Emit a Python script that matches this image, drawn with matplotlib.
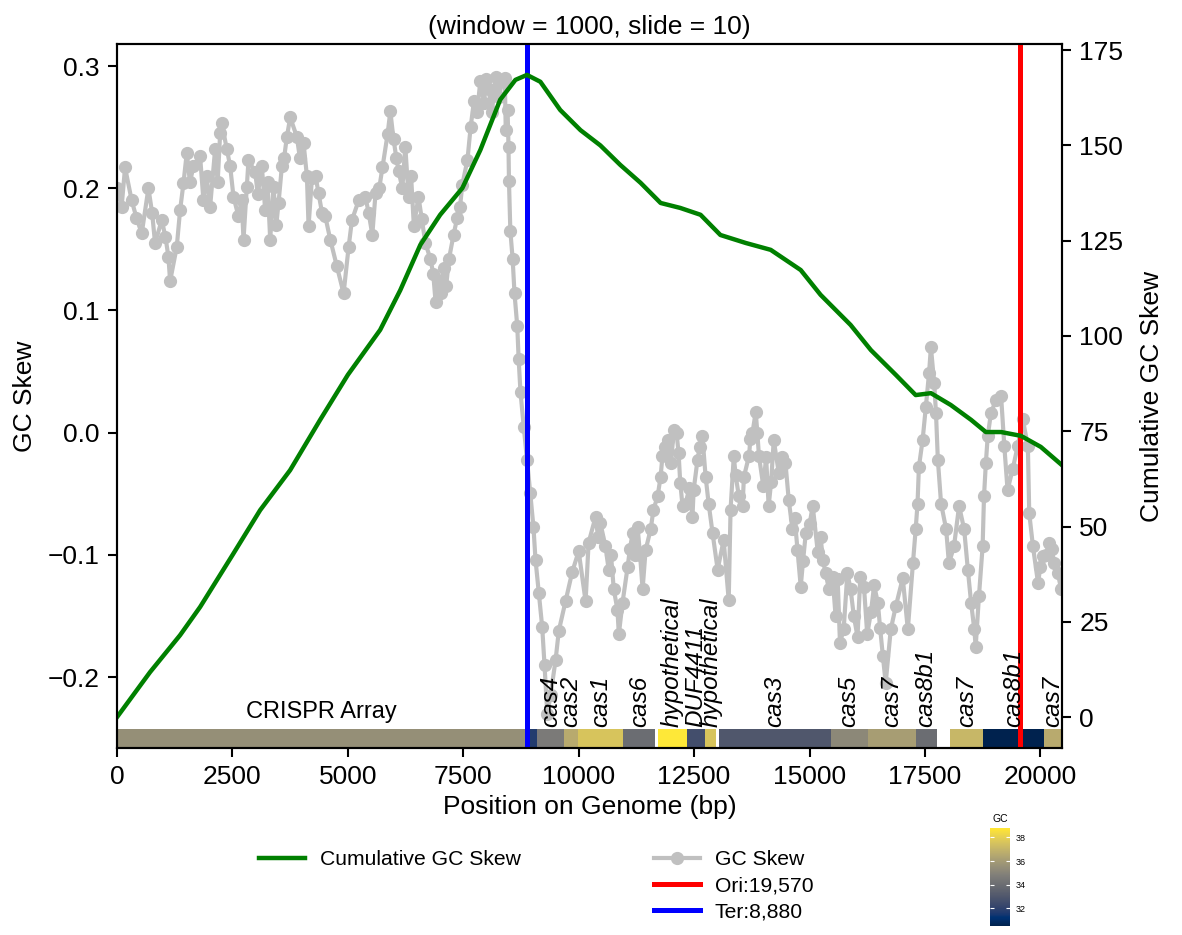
import numpy as np
import matplotlib.pyplot as plt
from matplotlib import colors, cm
from matplotlib.ticker import MultipleLocator

plt.rcParams['font.family'] = ['Liberation Sans', 'DejaVu Sans']

# GC skew (window = 1000, slide = 10)
skew_pos = [0, 174, 318, 535, 680, 824, 969, 1113, 1150, 1294, 1366, 1439, 1511, 1656, 1800,
            1872, 2017, 2125, 2234, 2270, 2378, 2451, 2523, 2631, 2740, 2812, 2848, 2993, 3137,
            3210, 3318, 3390, 3499, 3571, 3679, 3752, 3896, 4041, 4113, 4149, 4222, 4366, 4511,
            4619, 4764, 4908, 5017, 5089, 5234,
            5380, 5530, 5600, 5750, 5860, 5920, 5990, 6100, 6245, 6315, 6430, 6530, 6680, 6790,
            6900, 7010, 7080, 7190, 7290, 7370, 7480, 7590, 7660, 7730, 7870, 8050, 8200, 8350,
            8460, 8480, 8490, 8520, 8570, 8610, 8670, 8700, 8740, 8810, 8880, 8950, 9020, 9065,
            9135, 9210, 9260, 9320, 9390, 9500, 9570, 9715, 9860, 10000, 10150, 10215,
            10365, 10470, 10580, 10650, 10760, 10840, 10870, 10950, 11060, 11170, 11275, 11385,
            11450, 11560, 11620, 11710, 11775, 11815, 11925, 12060, 12165, 12200, 12315, 12465,
            12490, 12575, 12680, 12750, 12815, 12900, 13010, 13140, 13250, 13290, 13360, 13470,
            13580, 13690, 13765, 13835, 13905, 14000, 14115, 14225, 14335, 14480, 14550, 14630,
            14740, 14810, 14920, 15070, 15180, 15290, 15420,
            15565, 15610, 15740, 15890, 16040, 16180, 16330, 16480, 16590, 16650, 16760, 16870,
            17020, 17130, 17240, 17300, 17340, 17370, 17450, 17520, 17590, 17630, 17700, 17740,
            17780, 17850, 17960, 18020, 18130, 18240, 18350, 18430, 18500, 18570, 18600, 18670,
            18750, 18780, 18820, 18860, 18930, 19040, 19150, 19220, 19290, 19400, 19510, 19620,
            19730, 19760, 19840, 19950, 20060, 20190, 20300, 20450]
skew_val = [0.200, 0.217, 0.190, 0.163, 0.200, 0.155, 0.174, 0.144, 0.124, 0.152, 0.182, 0.204,
            0.229, 0.218, 0.226, 0.190, 0.185, 0.232, 0.245, 0.253, 0.232, 0.218, 0.193, 0.177,
            0.158, 0.201, 0.223, 0.213, 0.218, 0.182, 0.158, 0.201, 0.188, 0.218, 0.242, 0.258,
            0.242, 0.237, 0.210, 0.169, 0.208, 0.196, 0.177, 0.158, 0.136, 0.114, 0.152, 0.174,
            0.190,
            0.193, 0.162, 0.196, 0.217, 0.244, 0.263, 0.240, 0.214, 0.234, 0.193, 0.169, 0.193,
            0.155, 0.142, 0.107, 0.114, 0.135, 0.142, 0.162, 0.176, 0.203, 0.223, 0.250, 0.271,
            0.288, 0.281, 0.291, 0.288, 0.264, 0.234, 0.206, 0.165, 0.142, 0.114, 0.087, 0.060,
            0.033, 0.005, -0.022, -0.049, -0.077, -0.104, -0.131, -0.159, -0.190, -0.230, -0.215,
            -0.186, -0.162, -0.138, -0.114, -0.097, -0.138, -0.090,
            -0.069, -0.074, -0.093, -0.112, -0.128, -0.145, -0.165, -0.139, -0.110, -0.082,
            -0.077, -0.128, -0.096, -0.079, -0.063, -0.052, -0.036, -0.019, -0.006, 0.002,
            -0.017, -0.041, -0.058, -0.069, -0.047, -0.022, -0.003, -0.036, -0.058, -0.082,
            -0.112, -0.088, -0.137, -0.063, -0.019, -0.052, -0.036, -0.019, 0.000, 0.017,
            -0.019, -0.044, -0.060, -0.006, -0.033, -0.025, -0.055, -0.079, -0.096, -0.126,
            -0.082, -0.060, -0.098, -0.104, -0.128,
            -0.150, -0.120, -0.161, -0.128, -0.167, -0.126, -0.147, -0.139, -0.183, -0.205,
            -0.161, -0.142, -0.119, -0.161, -0.107, -0.079, -0.058, -0.028, -0.006, 0.021,
            0.049, 0.070, 0.041, 0.016, -0.022, -0.058, -0.079, -0.107, -0.093, -0.060, -0.079,
            -0.112, -0.139, -0.161, -0.175, -0.134, -0.093, -0.052, -0.025, -0.003, 0.016,
            0.027, 0.030, -0.011, -0.047, -0.030, -0.011, 0.011, -0.011, -0.066, -0.093,
            -0.123, -0.101, -0.090, -0.107, -0.128]

# extra readings inside the dense clusters of dots
extra_pos = [100, 420, 760, 1050, 1580, 1940, 2180, 2700, 3050, 3260, 3450, 3620, 3960, 4300,
             4440, 5450, 5680, 6050, 6180, 6370, 6600, 6850, 6960, 7130, 7430, 7800, 7950,
             8000, 8120, 8270, 8400, 8420, 10420, 10700, 11110, 11220, 11330, 11870, 12000,
             12120, 12250, 12400, 12620, 13400, 13550, 13720, 13870, 14060, 14170, 14400,
             14680, 14860, 15000, 15240, 15350, 15500, 15660, 15820, 15960, 16100, 16250,
             16400, 16530, 20000, 20120, 20250, 20380]
extra_val = [0.185, 0.176, 0.180, 0.160, 0.205, 0.210, 0.205, 0.190, 0.195, 0.205, 0.170,
             0.225, 0.225, 0.210, 0.180, 0.180, 0.200, 0.225, 0.200, 0.210, 0.175, 0.130,
             0.125, 0.120, 0.185, 0.262, 0.270, 0.289, 0.262, 0.275, 0.290, 0.248, -0.085,
             -0.100, -0.095, -0.100, -0.100, -0.012, -0.025, 0.000, -0.060, -0.045, -0.012,
             -0.035, -0.060, -0.005, 0.000, -0.020, -0.040, -0.020, -0.070, -0.105, -0.075,
             -0.085, -0.115, -0.118, -0.172, -0.115, -0.150, -0.118, -0.165, -0.125, -0.160,
             -0.110, -0.100, -0.095, -0.115]

# cumulative GC skew (right axis)
cum_pos = [0, 715, 1366, 1800, 2500, 3100, 3750, 4400, 5000, 5700, 6135, 6570, 7000, 7480,
           7870, 8300, 8630, 8880, 9170, 9600, 10040, 10470, 10900, 11340, 11775, 12200,
           12640, 13070, 13620, 14160, 14810, 15240, 15890, 16330, 16870, 17300, 17630,
           18060, 18500, 18820, 19150, 19580, 20010, 20470]
cum_val = [0, 11.8, 21.5, 28.9, 42.5, 54.3, 64.8, 78.0, 89.8, 101.6, 112.0, 123.9, 131.8,
           138.8, 148.8, 162.0, 167.2, 168.5, 166.7, 159.3, 154.0, 150.0, 144.9, 140.2,
           134.9, 133.6, 131.8, 126.5, 124.4, 122.6, 117.3, 110.8, 102.9, 96.3, 89.8, 84.5,
           85.0, 81.9, 78.0, 74.8, 74.8, 73.8, 70.9, 66.1]

# genes along the bottom track
gene_names = ['CRISPR Array', '', 'cas4', 'cas2', 'cas1', 'cas6', 'hypothetical', 'DUF4411',
              'hypothetical', 'cas3', 'cas5', 'cas7', 'cas8b1', 'cas7', 'cas8b1', 'cas7']
gene_start = [0, 8870, 9094, 9685, 9976, 10969, 11709, 12346, 12732, 13031, 15457, 16260,
              17299, 18047, 18764, 20079]
gene_end = [8870, 9094, 9685, 9976, 10969, 11654, 12346, 12732, 12984, 15457, 16260, 17299,
            17756, 18764, 20079, 20470]
gene_gc = [35.5, 31.7, 34.6, 36.6, 37.6, 34.0, 38.8, 32.6, 37.6, 33.0, 35.2, 36.1, 34.0,
           37.1, 30.5, 36.6]

ori = 19570
ter = 8880
genome_len = 20470

# put all readings in position order
pos = np.array(skew_pos + extra_pos)
val = np.array(skew_val + extra_val)
order = np.argsort(pos, kind='stable')
pos, val = pos[order], val[order]

fig = plt.figure(figsize=(11.82, 9.35), dpi=100)
ax = fig.add_axes([0.099, 0.2, 0.7995, 0.7529])
ax2 = ax.twinx()

norm = colors.Normalize(min(gene_gc), max(gene_gc))
cmap = plt.get_cmap('cividis')

# gene track
trans = ax.get_xaxis_transform()
for name, s, e, gc in zip(gene_names, gene_start, gene_end, gene_gc):
    ax.bar(s, 0.027, width=e - s, bottom=0, align='edge', transform=trans,
           color=cmap(norm(gc)), zorder=1, linewidth=0)
    mid = (s + e) / 2
    if name == 'CRISPR Array':
        ax.text(mid, 0.036, name, transform=trans, ha='center', va='bottom', fontsize=17)
    elif name:
        ax.text(mid, 0.03, name, transform=trans, ha='center', va='bottom', rotation=90,
                fontsize=17.5, style='italic', zorder=4)

gc_line, = ax.plot(pos, val, color='silver', lw=3, marker='o', ms=8.5,
                   zorder=2, label='GC Skew')
ori_line = ax.axvline(ori, color='red', lw=3.6, zorder=3, label=f'Ori:{ori:,}')
ter_line = ax.axvline(ter, color='blue', lw=3.6, zorder=3, label=f'Ter:{ter:,}')

cum_line, = ax2.plot(cum_pos, cum_val, color='green', lw=3.2, label='Cumulative GC Skew')

ax.set_xlim(0, genome_len)
ax.set_ylim(-0.258, 0.318)
ax2.set_ylim(-8.1, 176.6)
ax.xaxis.set_major_locator(MultipleLocator(2500))
ax.yaxis.set_major_locator(MultipleLocator(0.1))
ax2.yaxis.set_major_locator(MultipleLocator(25))

for a in (ax, ax2):
    a.tick_params(labelsize=19, length=6.5, width=1.5, pad=6)
    for sp in a.spines.values():
        sp.set_linewidth(1.5)

ax.set_xlabel('Position on Genome (bp)', fontsize=19, labelpad=4)
ax.set_ylabel('GC Skew', fontsize=19, labelpad=8)
ax2.set_ylabel('Cumulative GC Skew', fontsize=19, labelpad=12)
ax.set_title('(window = 1000, slide = 10)', fontsize=19, pad=7)

leg_kw = dict(frameon=False, fontsize=15.2, borderpad=0, borderaxespad=0, handlelength=2.2,
              handletextpad=0.7, labelspacing=0.35, numpoints=1, loc='upper left',
              bbox_transform=fig.transFigure)
fig.legend(handles=[cum_line], bbox_to_anchor=(0.219, 0.091), **leg_kw)
fig.legend(handles=[gc_line, ori_line, ter_line], bbox_to_anchor=(0.553, 0.091), **leg_kw)

# colour key for GC content
cax = fig.add_axes([0.8376, 0.0096, 0.0169, 0.1048])
cb = fig.colorbar(cm.ScalarMappable(norm=norm, cmap=cmap), cax=cax)
cb.outline.set_visible(False)
cb.set_ticks([32, 34, 36, 38])
cax.yaxis.set_ticks_position('both')
cax.tick_params(labelsize=6.5, color='white', direction='in', length=3, width=0.8, pad=4)
cax.set_title('GC', fontsize=7.5, pad=4)

fig.savefig('out.png', dpi=100)
